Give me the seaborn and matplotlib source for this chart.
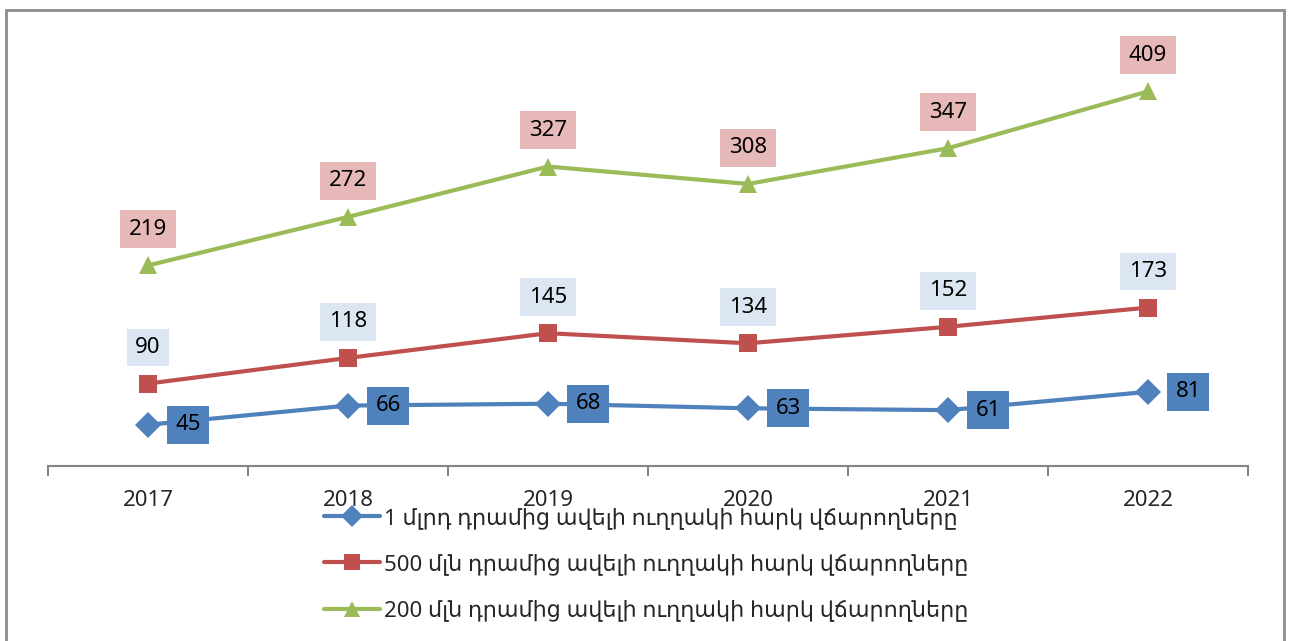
import pandas as pd
import seaborn as sns
import matplotlib.pyplot as plt
from matplotlib.patches import Rectangle
from matplotlib.ticker import FixedLocator

# Data
years = [2017, 2018, 2019, 2020, 2021, 2022]
series_names = [
    '1 մլրդ դրամից ավելի ուղղակի հարկ վճարողները',
    '500 մլն դրամից ավելի ուղղակի հարկ վճարողները',
    '200 մլն դրամից ավելի ուղղակի հարկ վճարողները',
]
over_1bn = [45, 66, 68, 63, 61, 81]
over_500m = [90, 118, 145, 134, 152, 173]
over_200m = [219, 272, 327, 308, 347, 409]

colors = ['#4F81BD', '#C0504D', '#9BBB59']
markers = ['D', 's', '^']
label_boxes = ['#4F81BD', '#DCE6F2', '#E6B9B8']

rows = []
for name, vals in zip(series_names, [over_1bn, over_500m, over_200m]):
    for y, v in zip(years, vals):
        rows.append({'year': y, 'value': v, 'series': name})
df = pd.DataFrame(rows)

sns.set_style('white')
plt.rcParams['font.family'] = ['Noto Sans', 'DejaVu Sans']

fig = plt.figure(figsize=(12.9, 6.41), dpi=100)
ax = fig.add_axes([48 / 1290, 175 / 641, 1200 / 1290, 446 / 641])

sns.lineplot(data=df, x='year', y='value', hue='series', style='series',
             palette=dict(zip(series_names, colors)),
             markers=dict(zip(series_names, markers)),
             dashes=False, linewidth=3, markersize=13,
             markeredgewidth=0, ax=ax, legend=True)

# data labels
for name, vals, box in zip(series_names, [over_1bn, over_500m, over_200m], label_boxes):
    for y, v in zip(years, vals):
        if box == '#4F81BD':
            off = (29, 0)
        else:
            off = (0, 26)
        ax.annotate(str(v), (y, v), xytext=off, textcoords='offset points',
                    ha='center', va='center', fontsize=16, color='black',
                    bbox=dict(boxstyle='square,pad=0.38', fc=box, ec='none'))

ax.set_xlim(years[0] - 0.5, years[-1] + 0.5)
ax.set_ylim(0, 487)
ax.set_xticks(years)
ax.set_xticklabels([str(y) for y in years], fontsize=16)
ax.xaxis.set_minor_locator(FixedLocator([y - 0.5 for y in years] + [years[-1] + 0.5]))
ax.tick_params(axis='x', which='major', length=0, pad=17)
ax.tick_params(axis='x', which='minor', length=7, width=1.5, color='#868686', bottom=True)
ax.set_yticks([])
ax.set_xlabel('')
ax.set_ylabel('')
for s in ['top', 'right', 'left']:
    ax.spines[s].set_visible(False)
ax.spines['bottom'].set_color('#868686')
ax.spines['bottom'].set_linewidth(1.5)

handles, labels = ax.get_legend_handles_labels()
ax.legend_.remove()
fig.legend(handles, labels, loc='upper left', bbox_to_anchor=(324 / 1290, 1 - 507 / 641),
           frameon=False, fontsize=16, handlelength=2.5, handletextpad=0.2,
           labelspacing=1.1, borderaxespad=0, borderpad=0, markerscale=0.9)

# outer chart frame
fig.patches.append(Rectangle((6 / 1290, -0.1), 1278 / 1290, 1.1 - 10 / 641,
                             transform=fig.transFigure, fill=False,
                             ec='#8C8C8C', lw=2, clip_on=False))

fig.savefig('out.png', dpi=100)
